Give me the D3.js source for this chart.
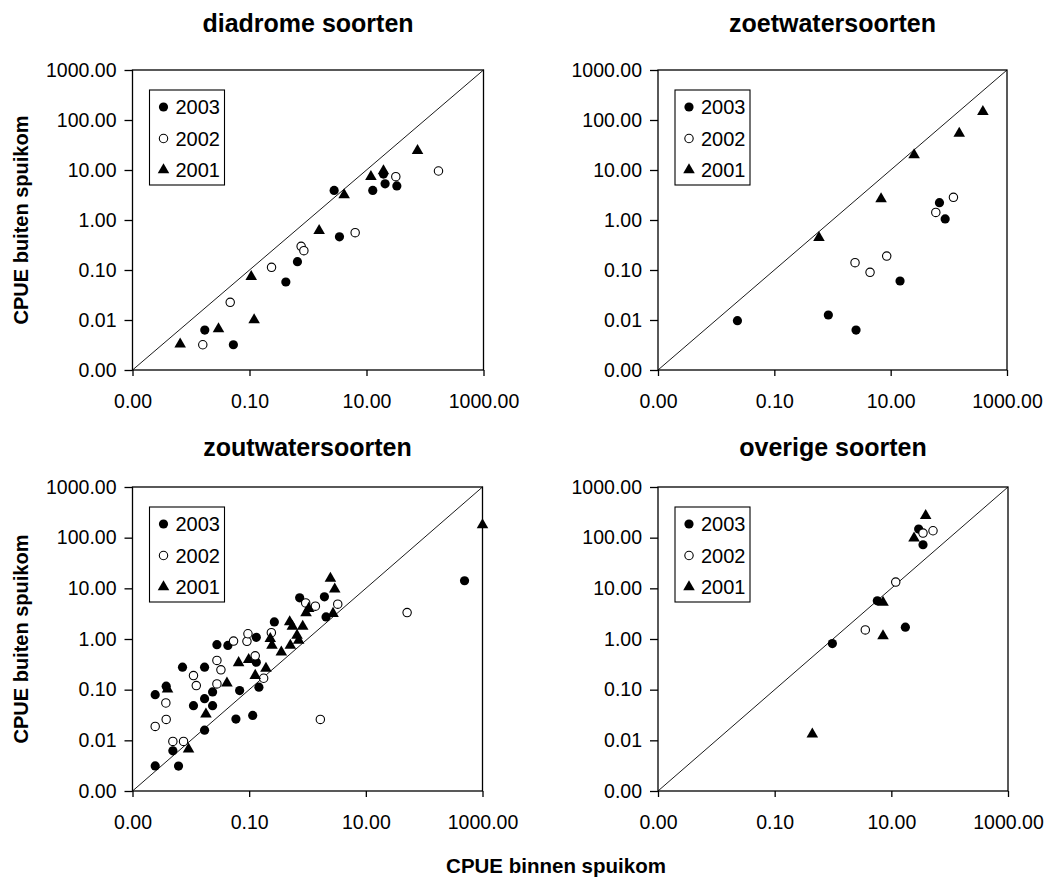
<!DOCTYPE html>
<html>
<head>
<meta charset="utf-8">
<script src="https://cdnjs.cloudflare.com/ajax/libs/d3/7.8.5/d3.min.js"></script>
<style>
  body { margin: 0; background: #fff; }
  text { font-family: Arial, "Liberation Sans", sans-serif; fill: #000; }
</style>
</head>
<body>
<div id="chart"></div>
<script>
// values: [CPUE binnen, CPUE buiten]
var diadrome2003 = [[0.0172,0.0063],[0.053,0.0032],[0.418,0.0575],[0.66,0.147],[2.8,3.9],[3.45,0.46],[12.8,3.9],[20.8,5.3],[33,4.8],[19.5,8.3]];
var diadrome2002 = [[0.0159,0.0032],[0.0468,0.0226],[0.238,0.113],[0.763,0.297],[0.85,0.244],[6.4,0.558],[31.7,7.35],[170,9.55]];
var diadrome2001 = [[0.00653,0.0033],[0.0295,0.0066],[0.107,0.0736],[0.12,0.01],[1.55,0.61],[4.15,3.16],[11.9,7.35],[19.5,9.55],[74.5,24.4]];

var zoet2003 = [[0.0232,0.0097],[0.848,0.0126],[2.54,0.0063],[14.5,0.0603],[69,2.22],[86.5,1.05]];
var zoet2002 = [[2.44,0.14],[4.42,0.0898],[8.55,0.19],[59.7,1.42],[120,2.84]];
var zoet2001 = [[0.585,0.443],[6.84,2.63],[25.3,20],[151,54],[385,147]];

var zout2003 = [[0.00245,0.0798],[0.00378,0.117],[0.00245,0.00312],[0.00492,0.0062],[0.00615,0.0031],[0.0072,0.278],[0.0111,0.0483],[0.0172,0.278],[0.0172,0.0665],[0.0172,0.0159],[0.0236,0.0901],[0.0236,0.0483],[0.028,0.771],[0.0432,0.748],[0.0593,0.0263],[0.0686,0.0959],[0.115,0.031],[0.1325,1.08],[0.1325,0.349],[0.147,0.112],[0.27,2.17],[0.734,6.49],[1.95,6.79],[2.08,2.73],[492,14.1]];
var zout2002 = [[0.00245,0.0188],[0.00373,0.0546],[0.00378,0.0259],[0.00492,0.0095],[0.0075,0.0095],[0.0111,0.19],[0.0124,0.1205],[0.028,0.377],[0.028,0.13],[0.0328,0.246],[0.054,0.912],[0.0916,0.899],[0.0953,1.27],[0.127,0.466],[0.177,0.168],[0.24,1.33],[0.931,5.16],[1.365,4.44],[3.3,4.86],[1.66,0.0259],[51,3.32]];
var zout2001 = [[0.00399,0.102],[0.00914,0.00668],[0.01815,0.033],[0.0416,0.134],[0.0659,0.339],[0.098,0.389],[0.127,0.19],[0.194,0.262],[0.23,1.01],[0.246,0.748],[0.356,0.552],[0.495,2.17],[0.55,1.78],[0.508,0.748],[0.661,1.18],[0.706,0.934],[0.828,1.78],[0.944,3.27],[1.05,3.99],[2.47,15.7],[2.93,9.64],[2.74,3.18],[1000,179]];

var overig2003 = [[0.975,0.813],[5.75,5.68],[17.4,1.71],[29.4,148],[34.9,72.5]];
var overig2002 = [[3.58,1.51],[11.9,13.3],[34.9,123],[51.8,137]];
var overig2001 = [[0.442,0.0133],[7.2,5.26],[7.2,1.15],[24.5,98],[38.8,271]];

var titles = ["diadrome soorten", "zoetwatersoorten", "zoutwatersoorten", "overige soorten"];
var years = ["2003", "2002", "2001"];
var yTicks = [0.001, 0.01, 0.1, 1, 10, 100, 1000];
var xTicks = [0.001, 0.1, 10, 1000];

var width = 1046, height = 881;

var svg = d3.select("#chart").append("svg")
  .attr("width", width)
  .attr("height", height);

// plot boxes (left, top, right, bottom)
var boxes = [
  [132.5, 70, 483.5, 370],
  [658, 70, 1007, 370],
  [132.5, 487, 482.5, 791],
  [658, 487, 1008, 791]
];
var titleY = [32, 32, 456, 456];

var panels = [
  [diadrome2003, diadrome2002, diadrome2001],
  [zoet2003, zoet2002, zoet2001],
  [zout2003, zout2002, zout2001],
  [overig2003, overig2002, overig2001]
];

var fmt = d3.format(".2f");
var triangle = d3.symbol().type(d3.symbolTriangle).size(58);

function drawMarker(g, type, x, y) {
  if (type == 0) {
    g.append("circle").attr("cx", x).attr("cy", y).attr("r", 4.6).attr("fill", "#000");
  } else if (type == 1) {
    g.append("circle").attr("cx", x).attr("cy", y).attr("r", 4.2)
      .attr("fill", "#fff").attr("stroke", "#000").attr("stroke-width", 1.1);
  } else {
    g.append("path").attr("d", triangle)
      .attr("transform", "translate(" + x + "," + (y) + ")")
      .attr("fill", "#000");
  }
}

panels.forEach(function(series, i) {
  var b = boxes[i];
  var x = d3.scaleLog().domain([0.001, 1000]).range([b[0], b[2]]);
  var y = d3.scaleLog().domain([0.001, 1000]).range([b[3], b[1]]);
  var g = svg.append("g");

  g.append("rect")
    .attr("x", b[0]).attr("y", b[1])
    .attr("width", b[2] - b[0]).attr("height", b[3] - b[1])
    .attr("fill", "none").attr("stroke", "#000").attr("stroke-width", 1.3);

  // 1:1 line
  g.append("line")
    .attr("x1", x(0.001)).attr("y1", y(0.001))
    .attr("x2", x(1000)).attr("y2", y(1000))
    .attr("stroke", "#000").attr("stroke-width", 0.9);

  var yAxis = d3.axisLeft(y).tickValues(yTicks).tickFormat(fmt).tickSizeOuter(0).tickSize(8).tickPadding(8);
  var xAxis = d3.axisBottom(x).tickValues(xTicks).tickFormat(fmt).tickSizeOuter(0).tickSize(6).tickPadding(18);

  var ya = g.append("g").attr("transform", "translate(" + b[0] + ",0)").call(yAxis);
  var xa = g.append("g").attr("transform", "translate(0," + b[3] + ")").call(xAxis);
  [ya, xa].forEach(function(a) {
    a.select(".domain").remove();
    a.selectAll("line").attr("stroke", "#000").attr("stroke-width", 1.3);
    a.selectAll("text").attr("font-size", "19.5px").attr("font-family", "Arial, 'Liberation Sans', sans-serif").attr("fill", "#000");
  });

  series.forEach(function(pts, k) {
    pts.forEach(function(p) {
      drawMarker(g, k, x(p[0]), y(p[1]));
    });
  });

  // legend
  var lx = b[0] + 17, ly = b[1] + 20;
  g.append("rect").attr("x", lx).attr("y", ly).attr("width", 75).attr("height", 95)
    .attr("fill", "#fff").attr("stroke", "#000").attr("stroke-width", 1.1);
  years.forEach(function(yr, k) {
    var cy = ly + 17 + k * 31.5;
    drawMarker(g, k, lx + 14, cy);
    g.append("text").attr("x", lx + 26).attr("y", cy + 7)
      .attr("font-size", "20px").text(yr);
  });

  g.append("text")
    .attr("x", (b[0] + b[2]) / 2).attr("y", titleY[i])
    .attr("text-anchor", "middle")
    .attr("font-size", "25px").attr("font-weight", "bold")
    .text(titles[i]);

  if (i % 2 == 0) {
    g.append("text")
      .attr("transform", "translate(28," + ((b[1] + b[3]) / 2) + ") rotate(-90)")
      .attr("text-anchor", "middle")
      .attr("font-size", "20px").attr("font-weight", "bold")
      .text("CPUE buiten spuikom");
  }
});

svg.append("text")
  .attr("x", 556).attr("y", 873)
  .attr("text-anchor", "middle")
  .attr("font-size", "20.5px").attr("font-weight", "bold")
  .text("CPUE binnen spuikom");
</script>
</body>
</html>
